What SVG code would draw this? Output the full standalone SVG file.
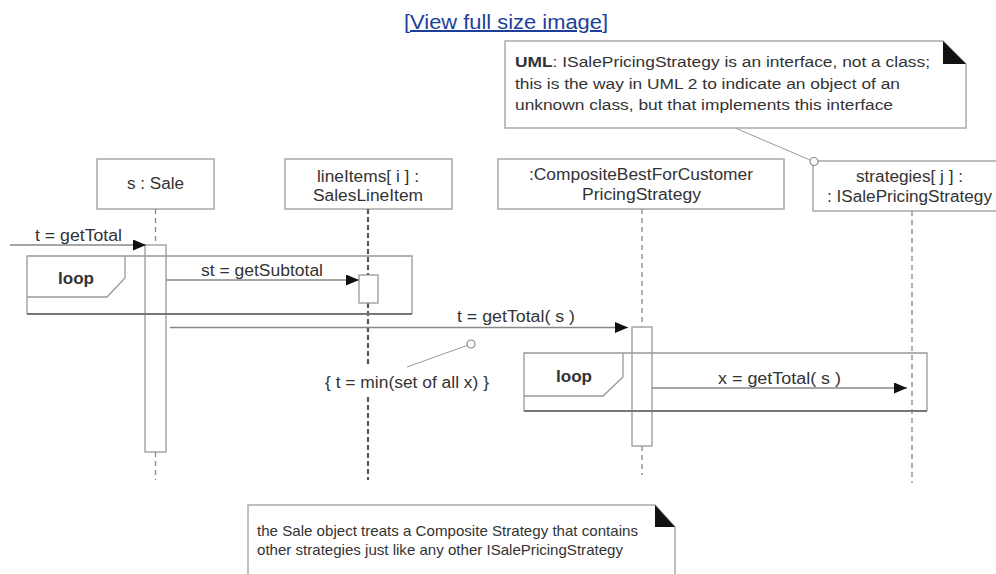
<svg xmlns="http://www.w3.org/2000/svg" width="996" height="574" viewBox="0 0 996 574">
<defs>
<marker id="arr" markerUnits="userSpaceOnUse" markerWidth="14" markerHeight="12" refX="13" refY="5.5" orient="auto"><path d="M0,0 L13,5.5 L0,11 z" fill="#111"/></marker>
</defs>
<style>
text{font-family:"Liberation Sans",Arial,sans-serif;fill:#333;}
.lbl{font-size:16px;}
.nt{font-size:14px;}
.box{fill:#fff;stroke:#a8a8a8;stroke-width:1.5;}
.life{stroke:#888;stroke-width:1.3;stroke-dasharray:5 4;fill:none;}
.life2{stroke:#555;stroke-width:2.2;stroke-dasharray:5 3;fill:none;}
.act{fill:#fff;stroke:#999;stroke-width:1.3;}
.frame{fill:none;stroke:#999;stroke-width:1.3;}
.fbot{stroke:#777;stroke-width:2.2;fill:none;}
.msg{stroke:#888;stroke-width:1.3;fill:none;marker-end:url(#arr);}
.note{fill:#fff;stroke:#aaa;stroke-width:1.5;}
.ear{fill:#111;}
.anc{stroke:#999;stroke-width:1;fill:none;}
.pin{fill:#fff;stroke:#888;stroke-width:1.2;}
</style>
<rect width="996" height="574" fill="#fff"/>

<text id="link" x="404" y="29" font-size="20" style="fill:#1d3f9c" textLength="204" lengthAdjust="spacingAndGlyphs" text-decoration="underline">[View full size image]</text>

<g id="sale">
<rect class="box" x="97" y="159" width="117" height="50"/>
<text class="lbl" x="127" y="189" textLength="57" lengthAdjust="spacingAndGlyphs">s : Sale</text>
<path class="life" d="M155.5,209 V245 M155.5,452 V480"/>
<rect class="act" x="145" y="245" width="21" height="207"/>
</g>

<g id="lineItems">
<rect class="box" x="285" y="159" width="167" height="50"/>
<text class="lbl" x="317" y="182" textLength="102" lengthAdjust="spacingAndGlyphs">lineItems[ i ] :</text>
<text class="lbl" x="313" y="201" textLength="110" lengthAdjust="spacingAndGlyphs">SalesLineItem</text>
<path class="life2" d="M368,209 V275 M368,303 V367 M368,397 V480"/>
<rect class="act" x="359" y="275" width="19" height="28"/>
</g>

<g id="composite">
<rect class="box" x="498" y="159" width="286" height="50"/>
<text class="lbl" x="529" y="180" textLength="224" lengthAdjust="spacingAndGlyphs">:CompositeBestForCustomer</text>
<text class="lbl" x="582" y="200" textLength="119" lengthAdjust="spacingAndGlyphs">PricingStrategy</text>
<path class="life" d="M642,209 V327 M642,446 V475"/>
<rect class="act" x="632" y="327" width="20" height="119"/>
</g>

<g id="strategies">
<rect class="box" x="813" y="161" width="200" height="50"/>
<text class="lbl" x="856" y="182" textLength="107" lengthAdjust="spacingAndGlyphs">strategies[ j ] :</text>
<text class="lbl" x="827" y="202" textLength="165" lengthAdjust="spacingAndGlyphs">: ISalePricingStrategy</text>
<path class="life" d="M912,211 V483"/>
</g>

<g id="loop1">
<path class="frame" d="M412,314 V256 H27 V314"/>
<path class="fbot" d="M27,314 H412"/>
<path class="frame" d="M125,256 V278 L107,297 H27"/>
<text class="lbl" x="58" y="284" font-weight="bold" textLength="36" lengthAdjust="spacingAndGlyphs">loop</text>
</g>

<g id="loop2">
<path class="frame" d="M927,411 V353 H524 V411"/>
<path class="fbot" d="M524,411 H927"/>
<path class="frame" d="M623,353 V377 L603,396 H524"/>
<text class="lbl" x="556" y="382" font-weight="bold" textLength="36" lengthAdjust="spacingAndGlyphs">loop</text>
</g>

<g id="connectors">
<path class="msg" d="M10,245 H146"/>
<text class="lbl" x="35" y="241" textLength="87" lengthAdjust="spacingAndGlyphs">t = getTotal</text>
<path class="msg" d="M166,280 H359"/>
<text class="lbl" x="201" y="276" textLength="122" lengthAdjust="spacingAndGlyphs">st = getSubtotal</text>
<path class="msg" d="M170,327.5 H628"/>
<text class="lbl" x="457" y="322" textLength="118" lengthAdjust="spacingAndGlyphs">t = getTotal( s )</text>
<path class="msg" d="M652,388 H907"/>
<text class="lbl" x="718" y="384" textLength="123" lengthAdjust="spacingAndGlyphs">x = getTotal( s )</text>
<path class="anc" d="M407,367 L467,345.5"/>
<circle class="pin" cx="471" cy="344" r="4"/>
<path class="anc" d="M735,128 L810,160"/>
<circle class="pin" cx="814" cy="161.5" r="4"/>
</g>

<g id="constraint">
<text class="lbl" x="325" y="388" textLength="164" lengthAdjust="spacingAndGlyphs">{ t = min(set of all x) }</text>
</g>

<g id="noteTop">
<path class="note" d="M505,41 H943 L966,64 V128 H505 Z"/>
<path class="ear" d="M943,41 L966,64 H943 Z"/>
<text class="nt" x="515" y="67" textLength="415" lengthAdjust="spacingAndGlyphs"><tspan font-weight="bold">UML</tspan>: ISalePricingStrategy is an interface, not a class;</text>
<text class="nt" x="515" y="88.5" textLength="385" lengthAdjust="spacingAndGlyphs">this is the way in UML 2 to indicate an object of an</text>
<text class="nt" x="515" y="110" textLength="378" lengthAdjust="spacingAndGlyphs">unknown class, but that implements this interface</text>
</g>

<g id="noteBottom">
<path class="note" d="M248,580 V505 H655 L675,527 V580"/>
<path class="ear" d="M655,505 L675,527 H655 Z"/>
<text x="257" y="536" font-size="14.5" textLength="381" lengthAdjust="spacingAndGlyphs">the Sale object treats a Composite Strategy that contains</text>
<text x="257" y="555" font-size="14.5" textLength="366" lengthAdjust="spacingAndGlyphs">other strategies just like any other ISalePricingStrategy</text>
</g>
</svg>
